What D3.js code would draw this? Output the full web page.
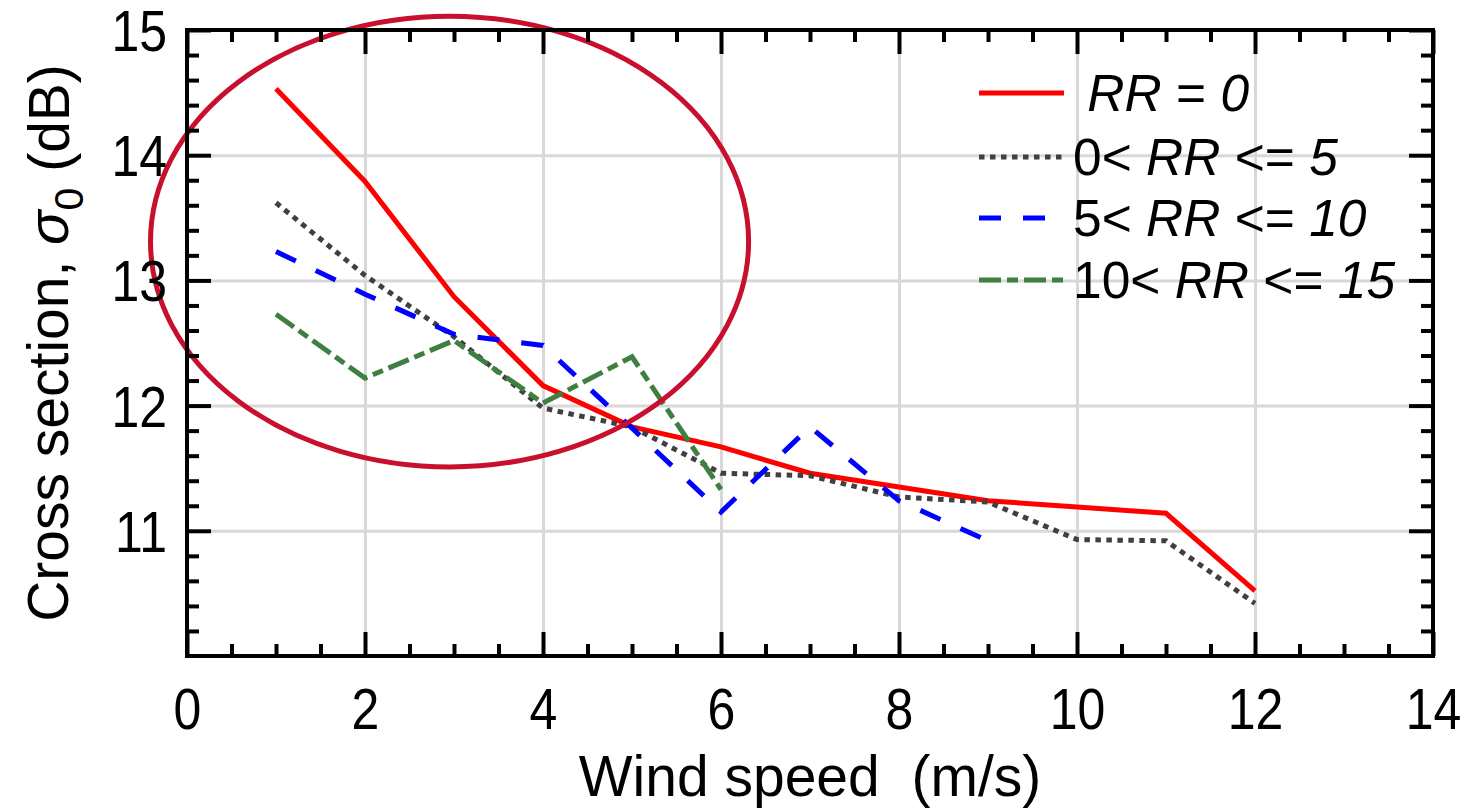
<!DOCTYPE html>
<html>
<head>
<meta charset="utf-8">
<script src="https://cdn.jsdelivr.net/npm/d3@7"></script>
<style>
  body { margin: 0; background: #fff; }
  svg { display: block; }
  text { font-family: "Liberation Sans", Arial, Helvetica, sans-serif; fill: #000; }
</style>
</head>
<body>
<svg id="chart" width="1466" height="808"></svg>
<script>
// Mean radar cross section per wind-speed bin, split by rain-rate class
const windSpeed = [1, 2, 3, 4, 5, 6, 7, 8, 9, 10, 11, 12];
const rr0       = [14.53, 13.79, 12.87, 12.16, 11.83, 11.67, 11.46, 11.35, 11.24, 11.19, 11.14, 10.52];
const rr0to5    = [13.62, 13.04, 12.55, 11.98, 11.83, 11.46, 11.44, 11.27, 11.23, 10.93, 10.92, 10.42];
const rr5to10   = [13.23, 12.89, 12.57, 12.48, 11.82, 11.15, 11.83, 11.24, 10.92];
const rr10to15  = [12.73, 12.22, 12.52, 12.02, 12.39, 11.33];

const xTickValues = [0, 2, 4, 6, 8, 10, 12, 14];
const yTickValues = [11, 12, 13, 14, 15];

// Legend entries: [text, italic] fragments
const legendLabels = [
  [[" ", false], ["RR", true], [" = ", false], ["0", true]],
  [["0< ", false], ["RR", true], [" <= ", false], ["5", true]],
  [["5< ", false], ["RR", true], [" <= ", false], ["10", true]],
  [["10< ", false], ["RR", true], [" <= ", false], ["15", true]]
];

// Highlight ellipse around the low-wind region (data units)
const ellipseCenter = [2.95, 13.31];
const ellipseRadii = [3.36, 1.8];

const svg = d3.select("#chart");
const plotLeft = 187, plotRight = 1433, plotTop = 30, plotBottom = 656;
const W = plotRight - plotLeft, H = plotBottom - plotTop;

const x = d3.scaleLinear().domain([0, 14]).range([plotLeft, plotRight]);
const y = d3.scaleLinear().domain([10, 15]).range([plotBottom, plotTop]);

const tickFontSize = 50;
const tickStretch = 1.15;
const titleFontSize = 57;
const legendFontSize = 51.5;

// Gridlines at major ticks
const grid = svg.append("g").attr("class", "grid");
grid.append("g")
  .attr("transform", `translate(0,${plotBottom})`)
  .call(d3.axisBottom(x).tickValues(xTickValues.filter(v => v > 0 && v < 14)).tickSize(-H).tickFormat(""))
  .call(g => g.select(".domain").remove());
grid.append("g")
  .attr("transform", `translate(${plotLeft},0)`)
  .call(d3.axisLeft(y).tickValues(yTickValues.filter(v => v < 15)).tickSize(-W).tickFormat(""))
  .call(g => g.select(".domain").remove());
grid.selectAll("line").attr("stroke", "#d8d8d8").attr("stroke-width", 3);

// Series
const series = [
  { values: rr0,      color: "#ff0000", dash: null },
  { values: rr0to5,   color: "#404040", dash: "5.5,5.5" },
  { values: rr5to10,  color: "#0000ff", dash: "22,22" },
  { values: rr10to15, color: "#3f7f3f", dash: "22,6,11,6" }
];

const line = d3.line().x(d => x(d[0])).y(d => y(d[1]));

series.forEach(s => {
  const pts = s.values.map((v, i) => [windSpeed[i], v]);
  svg.append("path")
    .datum(pts)
    .attr("d", line)
    .attr("fill", "none")
    .attr("stroke", s.color)
    .attr("stroke-width", 5)
    .attr("stroke-dasharray", s.dash)
    .attr("stroke-linejoin", "miter");
});

// Highlight ellipse
svg.append("ellipse")
  .attr("cx", x(ellipseCenter[0]))
  .attr("cy", y(ellipseCenter[1]))
  .attr("rx", x(ellipseCenter[0] + ellipseRadii[0]) - x(ellipseCenter[0]))
  .attr("ry", y(ellipseCenter[1]) - y(ellipseCenter[1] + ellipseRadii[1]))
  .attr("fill", "none")
  .attr("stroke", "#c8102e")
  .attr("stroke-width", 5);

// Axes with inward ticks on all four sides
const xMinor = d3.range(0, 14.001, 0.5).filter(v => !xTickValues.includes(v));
const yMinor = d3.range(10, 15.001, 0.2).map(v => +v.toFixed(1)).filter(v => !yTickValues.includes(v) && v !== 10);
const major = 24, minor = 12;

function addAxis(axisFn, scale, values, size, transform, withLabels) {
  const g = svg.append("g").attr("transform", transform)
    .call(axisFn(scale).tickValues(values).tickSize(-size).tickSizeOuter(0)
      .tickFormat(withLabels ? d3.format("d") : ""));
  g.select(".domain").remove();
  g.selectAll("line").attr("stroke", "#000").attr("stroke-width", 4);
  return g;
}

const xb = addAxis(d3.axisBottom, x, xTickValues, major, `translate(0,${plotBottom})`, true);
addAxis(d3.axisBottom, x, xMinor, minor, `translate(0,${plotBottom})`, false);
addAxis(d3.axisTop, x, xTickValues, major, `translate(0,${plotTop})`, false);
addAxis(d3.axisTop, x, xMinor, minor, `translate(0,${plotTop})`, false);
const yl = addAxis(d3.axisLeft, y, yTickValues, major, `translate(${plotLeft},0)`, true);
addAxis(d3.axisLeft, y, yMinor, minor, `translate(${plotLeft},0)`, false);
addAxis(d3.axisRight, y, yTickValues, major, `translate(${plotRight},0)`, false);
addAxis(d3.axisRight, y, yMinor, minor, `translate(${plotRight},0)`, false);

xb.selectAll("text")
  .attr("y", null).attr("dy", "0.358em")
  .attr("transform", `translate(0,52) scale(1,${tickStretch})`)
  .attr("font-size", tickFontSize).attr("fill", "#000")
  .attr("text-anchor", "middle");
yl.selectAll("text")
  .attr("x", null).attr("dy", "0.358em")
  .attr("transform", `translate(-20,0) scale(1,${tickStretch})`)
  .attr("font-size", tickFontSize).attr("fill", "#000")
  .attr("text-anchor", "end");

// Frame
svg.append("rect")
  .attr("x", plotLeft).attr("y", plotTop).attr("width", W).attr("height", H)
  .attr("fill", "none").attr("stroke", "#000").attr("stroke-width", 4);

// Axis titles
svg.append("text")
  .attr("transform", `translate(${(plotLeft + plotRight) / 2},776)`)
  .attr("dy", "0.358em")
  .attr("text-anchor", "middle")
  .attr("font-size", titleFontSize)
  .style("white-space", "pre")
  .text("Wind speed  (m/s)");

const yTitle = svg.append("text")
  .attr("transform", `translate(48,${(plotTop + plotBottom) / 2}) rotate(-90)`)
  .attr("dy", "0.358em")
  .attr("text-anchor", "middle")
  .attr("font-size", titleFontSize);
yTitle.append("tspan").text("Cross section, ");
yTitle.append("tspan").attr("font-style", "italic").text("σ");
yTitle.append("tspan").attr("font-size", titleFontSize * 0.72).attr("dy", "0.35em").text("0");
yTitle.append("tspan").attr("dy", "-0.25em").style("white-space", "pre").text(" (dB)");

// Legend
const legendX0 = 979, legendX1 = 1064, legendTextX = 1073;
const legendRows = [93, 157, 218, 280];
series.forEach((s, i) => {
  const yy = legendRows[i];
  svg.append("line")
    .attr("x1", legendX0).attr("x2", legendX1).attr("y1", yy).attr("y2", yy)
    .attr("stroke", s.color).attr("stroke-width", 5)
    .attr("stroke-dasharray", s.dash);
  const t = svg.append("text")
    .attr("x", legendTextX).attr("y", yy).attr("dy", "0.358em")
    .attr("font-size", legendFontSize)
    .style("white-space", "pre");
  legendLabels[i].forEach(([txt, it]) => {
    t.append("tspan").attr("font-style", it ? "italic" : "normal").text(txt);
  });
});
</script>
</body>
</html>
